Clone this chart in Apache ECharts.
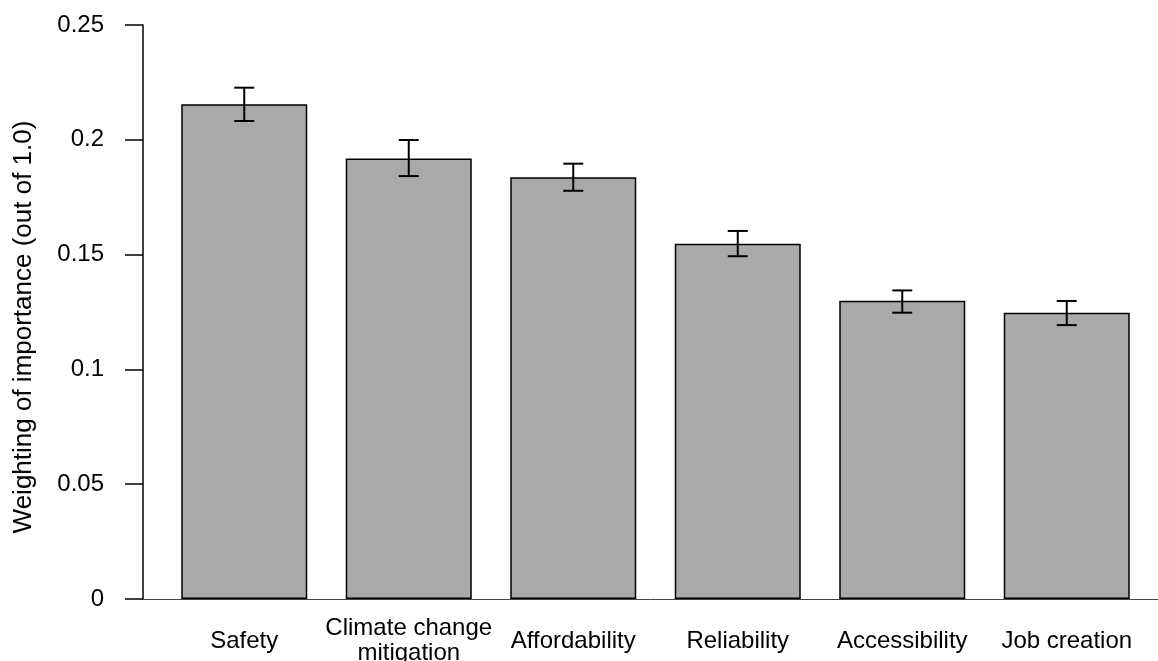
<!DOCTYPE html>
<html>
<head>
<meta charset="utf-8">
<script src="https://cdn.jsdelivr.net/npm/echarts@6/dist/echarts.min.js"></script>
<style>
html,body{margin:0;padding:0;background:#fff;}
#chart{width:1158px;height:661px;}
</style>
</head>
<body>
<div id="chart"></div>
<script>
const categories = ['Safety', 'Climate change\nmitigation', 'Affordability', 'Reliability', 'Accessibility', 'Job creation'];
const values = [0.2155, 0.1919, 0.1837, 0.1547, 0.1299, 0.1247];
const errLow = [0.2082, 0.1842, 0.1778, 0.1493, 0.1247, 0.1193];
const errHigh = [0.2227, 0.1999, 0.1896, 0.1603, 0.1344, 0.1298];
const yMin = 0, yMax = 0.25, yStep = 0.05;
const yTitle = 'Weighting of importance (out of 1.0)';

const FONT = "'Liberation Sans', Arial, sans-serif";
const chart = echarts.init(document.getElementById('chart'), null, {renderer: 'canvas'});

const errData = categories.map((c, i) => [i, errLow[i], errHigh[i]]);

chart.setOption({
  backgroundColor: '#ffffff',
  animation: false,
  grid: [
    {left: 162, right: 9, top: 25, bottom: 62, containLabel: false, outerBoundsMode: 'none'},
    {left: 143, right: 0, top: 25, bottom: 62, containLabel: false, outerBoundsMode: 'none'}
  ],
  xAxis: [
    {
      type: 'category', gridIndex: 0, data: categories,
      axisLine: {show: false},
      axisTick: {show: false},
      axisLabel: {
        color: '#000', fontFamily: FONT, fontSize: 24, margin: 42,
        verticalAlign: 'middle', lineHeight: 25, interval: 0
      }
    },
    {
      type: 'value', gridIndex: 1, min: 0, max: 1,
      axisLine: {show: true, lineStyle: {color: '#444', width: 1}},
      axisTick: {show: false}, axisLabel: {show: false}, splitLine: {show: false}
    }
  ],
  yAxis: [
    {
      type: 'value', gridIndex: 0, min: yMin, max: yMax, interval: yStep,
      offset: 19,
      name: yTitle, nameLocation: 'middle', nameGap: 106,
      nameTextStyle: {color: '#000', fontFamily: FONT, fontSize: 26, padding: [0, 30, 0, 0]},
      axisLine: {show: true, lineStyle: {color: '#000', width: 1.5}},
      axisTick: {show: true, length: 18, lineStyle: {color: '#000', width: 1.5}},
      axisLabel: {color: '#000', fontFamily: FONT, fontSize: 24, margin: 39},
      splitLine: {show: false}
    },
    {
      type: 'value', gridIndex: 1, min: 0, max: 1, show: false
    }
  ],
  series: [
    {
      type: 'bar', xAxisIndex: 0, yAxisIndex: 0,
      data: values,
      barCategoryGap: '23.4%',
      itemStyle: {color: '#A9A9A9', borderColor: '#000', borderWidth: 1.5},
      silent: true
    },
    {
      type: 'custom', xAxisIndex: 0, yAxisIndex: 0,
      data: errData,
      silent: true,
      renderItem: function (params, api) {
        const x = api.value(0);
        const lo = api.coord([x, api.value(1)]);
        const hi = api.coord([x, api.value(2)]);
        const hw = 10;
        const st = {stroke: '#000', lineWidth: 2};
        return {
          type: 'group',
          children: [
            {type: 'line', shape: {x1: lo[0], y1: lo[1], x2: hi[0], y2: hi[1]}, style: st},
            {type: 'line', shape: {x1: lo[0] - hw, y1: lo[1], x2: lo[0] + hw, y2: lo[1]}, style: st},
            {type: 'line', shape: {x1: hi[0] - hw, y1: hi[1], x2: hi[0] + hw, y2: hi[1]}, style: st}
          ]
        };
      },
      z: 5
    }
  ]
});
</script>
</body>
</html>
